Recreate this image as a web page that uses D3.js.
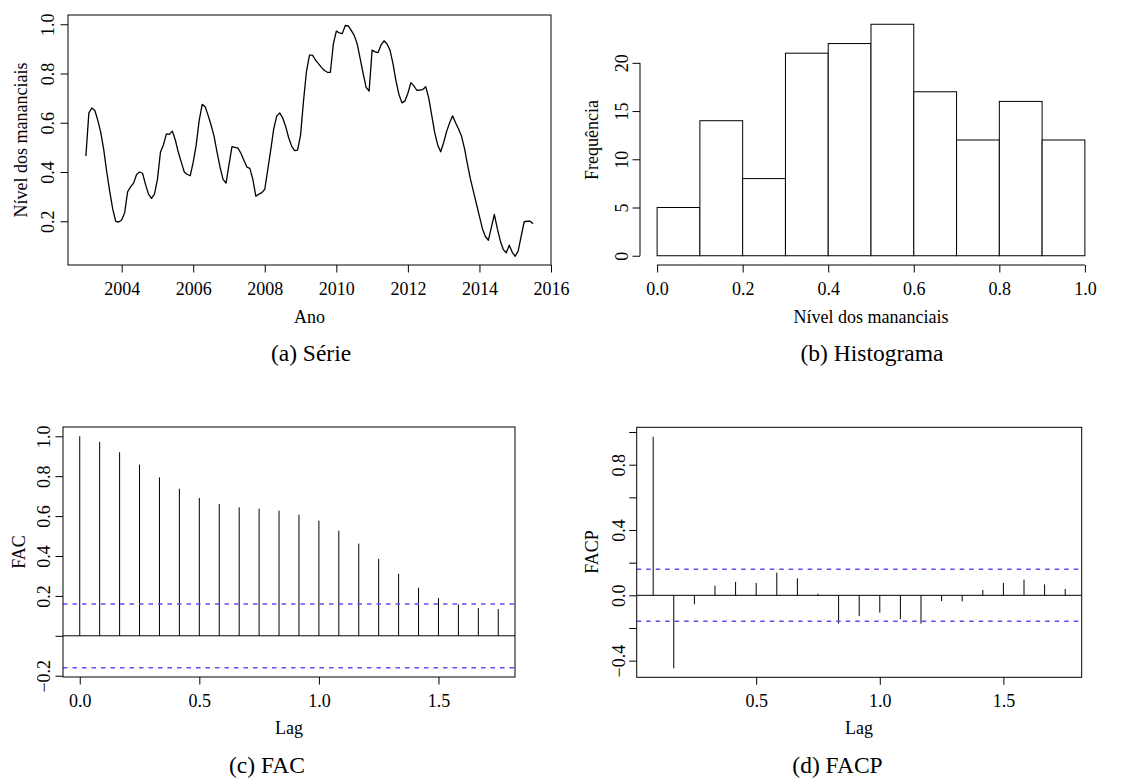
<!DOCTYPE html>
<html>
<head>
<meta charset="utf-8">
<script src="https://cdn.jsdelivr.net/npm/d3@7"></script>
<style>
  body { margin: 0; background: #fff; }
  svg, svg text { font-family: "Liberation Serif", "Times New Roman", serif; }
</style>
</head>
<body>
<script>
// nivel dos mananciais, mensal de jan/2003 a jul/2015
var startYear = 2003;
var nivel = [
  0.465, 0.64, 0.66, 0.65, 0.61, 0.56, 0.49, 0.40, 0.32, 0.25, 0.20, 0.197,
  0.205, 0.235, 0.32, 0.34, 0.355, 0.39, 0.40, 0.395, 0.35, 0.31, 0.293, 0.31,
  0.37, 0.48, 0.51, 0.555, 0.553, 0.566, 0.53, 0.48, 0.44, 0.40, 0.39, 0.385,
  0.44, 0.51, 0.61, 0.675, 0.665, 0.63, 0.59, 0.545, 0.48, 0.42, 0.37, 0.355,
  0.43, 0.503, 0.50, 0.497, 0.476, 0.448, 0.42, 0.415, 0.37, 0.302, 0.31, 0.316,
  0.33, 0.41, 0.49, 0.575, 0.627, 0.64, 0.62, 0.585, 0.54, 0.505, 0.487, 0.489,
  0.55, 0.69, 0.81, 0.875, 0.875, 0.855, 0.84, 0.825, 0.812, 0.805, 0.805, 0.92,
  0.972, 0.965, 0.962, 0.995, 0.993, 0.975, 0.955, 0.92, 0.86, 0.80, 0.744, 0.729,
  0.895, 0.888, 0.885, 0.916, 0.933, 0.92, 0.895, 0.84, 0.77, 0.715, 0.681, 0.688,
  0.72, 0.763, 0.75, 0.732, 0.733, 0.735, 0.746, 0.70, 0.63, 0.56, 0.51, 0.482,
  0.52, 0.565, 0.60, 0.628, 0.60, 0.575, 0.545, 0.495, 0.43, 0.37, 0.32, 0.27,
  0.22, 0.17, 0.138, 0.123, 0.175, 0.228, 0.17, 0.12, 0.085, 0.072, 0.103, 0.074,
  0.058, 0.08, 0.14, 0.198, 0.20, 0.20, 0.19
];

var histBreaks = [0, 0.1, 0.2, 0.3, 0.4, 0.5, 0.6, 0.7, 0.8, 0.9, 1.0];
var histCounts = [5, 14, 8, 21, 22, 24, 17, 12, 16, 12];

// FAC lags 0..21 (meses/12), FACP lags 1..21
var facValues = [1.0, 0.972, 0.920, 0.858, 0.794, 0.737, 0.691, 0.661, 0.644, 0.637, 0.627,
  0.607, 0.577, 0.527, 0.462, 0.386, 0.311, 0.241, 0.189, 0.157, 0.139, 0.134];
var facpValues = [0.971, -0.447, -0.055, 0.059, 0.082, 0.076, 0.139, 0.104, 0.010, -0.173,
  -0.127, -0.106, -0.145, -0.173, -0.035, -0.037, 0.033, 0.076, 0.096, 0.067, 0.039];
var conf = 1.96 / Math.sqrt(nivel.length);

var yearTicks = [2004, 2006, 2008, 2010, 2012, 2014, 2016];
var nivelTicks = [0.2, 0.4, 0.6, 0.8, 1.0];
var histXTicks = [0, 0.2, 0.4, 0.6, 0.8, 1.0];
var histYTicks = [0, 5, 10, 15, 20];
var lagTicksFac = [0, 0.5, 1.0, 1.5];
var lagTicksFacp = [0.5, 1.0, 1.5];
var facYTicks = [-0.2, 0, 0.2, 0.4, 0.6, 0.8, 1.0];
var facpYTicks = [-0.4, -0.2, 0, 0.2, 0.4, 0.6, 0.8, 1.0];

var W = 1127, H = 778, fs = 18;
var serif = "Liberation Serif, Times New Roman, serif";
var fmt1 = d3.format(".1f");
var minus = function(s) { return s.replace("-", "\u2212"); };
var ciColor = "#7344f2";

var svg = d3.select("body").append("svg")
    .attr("width", W)
    .attr("height", H)
    .attr("font-family", serif);

// helpers
function box(x, y) {
  svg.append("rect")
    .attr("x", x.range()[0]).attr("y", y.range()[1])
    .attr("width", x.range()[1] - x.range()[0])
    .attr("height", y.range()[0] - y.range()[1])
    .attr("fill", "none").attr("stroke", "#000").attr("stroke-width", 1);
}

function bottomAxis(x, yPos, ticks, format) {
  var g = svg.append("g")
    .attr("transform", "translate(0," + yPos + ")")
    .call(d3.axisBottom(x).tickValues(ticks).tickSize(7.5).tickSizeOuter(0).tickFormat(format))
    .attr("font-family", serif)
    .attr("font-size", fs);
  g.select(".domain").remove();
  g.selectAll("line").attr("stroke", "#000");
  g.selectAll("text").attr("y", 30).attr("dy", 0).attr("fill", "#000");
  return g;
}

function leftAxis(y, xPos, ticks, labelled, format, gap) {
  var g = svg.append("g")
    .attr("transform", "translate(" + xPos + ",0)")
    .call(d3.axisLeft(y).tickValues(ticks).tickSize(7.5).tickSizeOuter(0).tickFormat(format))
    .attr("font-family", serif)
    .attr("font-size", fs);
  g.select(".domain").remove();
  g.selectAll("line").attr("stroke", "#000");
  g.selectAll("text")
    .attr("transform", "rotate(-90)")
    .attr("x", 0).attr("y", -gap).attr("dy", 0)
    .attr("text-anchor", "middle")
    .attr("fill", "#000")
    .text(function(d) { return labelled.indexOf(d) >= 0 ? minus(format(d)) : ""; });
  return g;
}

function xTitle(txt, cx, yBase) {
  svg.append("text").attr("x", cx).attr("y", yBase)
    .attr("text-anchor", "middle").attr("font-size", fs).text(txt);
}

function yTitle(txt, xBase, cy) {
  svg.append("text")
    .attr("transform", "translate(" + xBase + "," + cy + ") rotate(-90)")
    .attr("text-anchor", "middle").attr("font-size", fs).text(txt);
}

function caption(txt, cx, yBase) {
  svg.append("text").attr("x", cx).attr("y", yBase)
    .attr("text-anchor", "middle").attr("font-size", 23.5).text(txt);
}

function ciLines(x, y) {
  [conf, -conf].forEach(function(c) {
    svg.append("line")
      .attr("x1", x.range()[0]).attr("x2", x.range()[1])
      .attr("y1", y(c)).attr("y2", y(c))
      .attr("stroke", ciColor).attr("stroke-width", 1.5)
      .attr("stroke-dasharray", "4.5,5");
  });
}

// (a) serie
var xa = d3.scaleLinear().domain([2002.5, 2016.0]).range([68, 551]);
var ya = d3.scaleLinear().domain([0.0224, 1.0376]).range([265, 15]);

var line = d3.line()
    .x(function(d, i) { return xa(startYear + i / 12); })
    .y(function(d) { return ya(d); });

svg.append("path")
  .datum(nivel)
  .attr("d", line)
  .attr("fill", "none")
  .attr("stroke", "#000")
  .attr("stroke-width", 1.3)
  .attr("stroke-linejoin", "round");

box(xa, ya);
bottomAxis(xa, 265, yearTicks, d3.format("d"));
leftAxis(ya, 68, nivelTicks, nivelTicks, fmt1, 14);
xTitle("Ano", 309.5, 323);
yTitle("Nível dos mananciais", 26.5, 140);
caption("(a) Série", 311, 361);

// (b) histograma
var xb = d3.scaleLinear().domain([-0.04, 1.04]).range([640, 1102]);
var yb = d3.scaleLinear().domain([-0.96, 24.96]).range([265, 15]);

svg.selectAll(".bar")
  .data(histCounts)
  .enter()
  .append("rect")
  .attr("class", "bar")
  .attr("x", function(d, i) { return xb(histBreaks[i]); })
  .attr("width", function(d, i) { return xb(histBreaks[i + 1]) - xb(histBreaks[i]); })
  .attr("y", function(d) { return yb(d); })
  .attr("height", function(d) { return yb(0) - yb(d); })
  .attr("fill", "#fff")
  .attr("stroke", "#000")
  .attr("stroke-width", 1);

svg.append("line")
  .attr("x1", xb(0)).attr("x2", xb(1)).attr("y1", 265).attr("y2", 265)
  .attr("stroke", "#000");
bottomAxis(xb, 265, histXTicks, fmt1);
svg.append("line")
  .attr("x1", 640).attr("x2", 640).attr("y1", yb(0)).attr("y2", yb(20))
  .attr("stroke", "#000");
leftAxis(yb, 640, histYTicks, histYTicks, d3.format("d"), 12.5);
xTitle("Nível dos mananciais", 871, 323);
yTitle("Frequência", 598, 140);
caption("(b) Histograma", 872, 361);

// (c) FAC
var xc = d3.scaleLinear().domain([-0.07, 1.82]).range([63, 515]);
var yc = d3.scaleLinear().domain([-0.2064, 1.0464]).range([677, 427]);

svg.selectAll(".fac")
  .data(facValues)
  .enter()
  .append("line")
  .attr("class", "fac")
  .attr("x1", function(d, i) { return xc(i / 12); })
  .attr("x2", function(d, i) { return xc(i / 12); })
  .attr("y1", yc(0))
  .attr("y2", function(d) { return yc(d); })
  .attr("stroke", "#000");

svg.append("line")
  .attr("x1", 63).attr("x2", 515).attr("y1", yc(0)).attr("y2", yc(0))
  .attr("stroke", "#000");
ciLines(xc, yc);
box(xc, yc);
bottomAxis(xc, 677, lagTicksFac, fmt1);
leftAxis(yc, 63, facYTicks, [-0.2, 0.2, 0.4, 0.6, 0.8, 1.0], fmt1, 13);
xTitle("Lag", 289, 734);
yTitle("FAC", 25, 552);
caption("(c) FAC", 267, 772.5);

// (d) FACP
var xd = d3.scaleLinear().domain([0.0167, 1.8167]).range([636.7, 1081.7]);
var yd = d3.scaleLinear().domain([-0.502, 1.029]).range([677.3, 427.3]);

svg.selectAll(".facp")
  .data(facpValues)
  .enter()
  .append("line")
  .attr("class", "facp")
  .attr("x1", function(d, i) { return xd((i + 1) / 12); })
  .attr("x2", function(d, i) { return xd((i + 1) / 12); })
  .attr("y1", yd(0))
  .attr("y2", function(d) { return yd(d); })
  .attr("stroke", "#000");

svg.append("line")
  .attr("x1", 636.7).attr("x2", 1081.7).attr("y1", yd(0)).attr("y2", yd(0))
  .attr("stroke", "#000");
ciLines(xd, yd);
box(xd, yd);
bottomAxis(xd, 677.3, lagTicksFacp, fmt1);
leftAxis(yd, 636.7, facpYTicks, [-0.4, 0, 0.4, 0.8], fmt1, 12);
xTitle("Lag", 859, 734);
yTitle("FACP", 598, 552);
caption("(d) FACP", 837.5, 772.5);
</script>
</body>
</html>
